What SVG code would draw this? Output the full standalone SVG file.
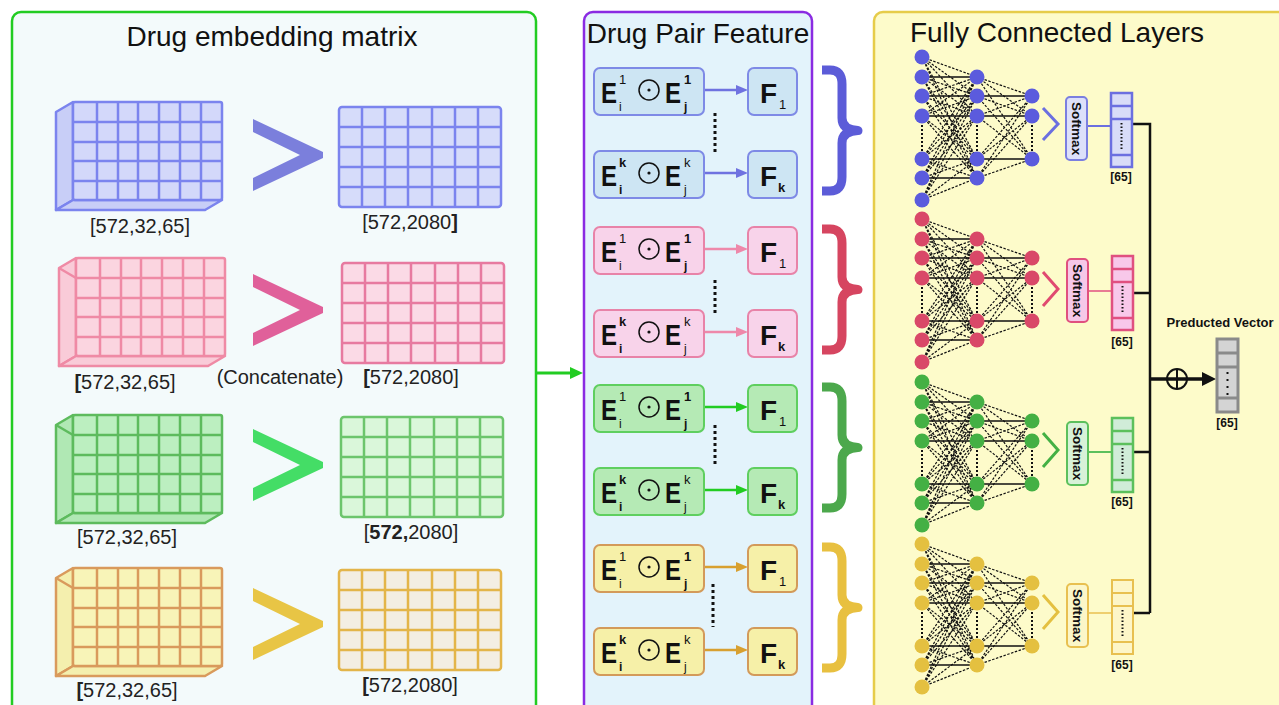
<svg xmlns="http://www.w3.org/2000/svg" width="1279" height="705" viewBox="0 0 1279 705">
<style>
text{font-family:"Liberation Sans",Arial,sans-serif;fill:#111}
.title{font-size:28px}
.lbl{font-size:20px;fill:#222}
.E{font-size:29px;font-weight:bold}
.F{font-size:28px;font-weight:bold}
.sup{font-size:13px}
.sub{font-size:12px}
.b{font-weight:bold}
.sm{font-size:13.5px;font-weight:bold}
.v65{font-size:12px;font-weight:bold}
.nnd{stroke:#111;stroke-width:1.2;stroke-dasharray:2.5 1.5;fill:none}
.nns{stroke:#111;stroke-width:1.7;fill:none}
.nnv{stroke:#111;stroke-width:2;stroke-dasharray:2 2;fill:none}
.odot{fill:none;stroke:#111;stroke-width:1.5}
.brace{fill:none;stroke-width:9;stroke-linejoin:round}
.dots{stroke:#111;stroke-width:3;stroke-dasharray:3 3;fill:none}
.vdots{stroke:#111;stroke-width:2;stroke-dasharray:1.5 2;fill:none}
.trunk{stroke:#111;stroke-width:2.5;fill:none}
</style>
<defs>
<g id="nnLines">
<path class="nns" d="M922 20H977M922 39H977M922 59H977M922 102H977M922 121H977M977 39H1032M977 59H1032M977 102H1032"/>
<path class="nnd" d="M922 0L977 20M922 0L977 39M922 0L977 59M922 0L977 102M922 0L977 121M922 20L977 39M922 20L977 59M922 20L977 102M922 20L977 121M922 39L977 20M922 39L977 59M922 39L977 102M922 39L977 121M922 59L977 20M922 59L977 39M922 59L977 102M922 59L977 121M922 102L977 20M922 102L977 39M922 102L977 59M922 102L977 121M922 121L977 20M922 121L977 39M922 121L977 59M922 121L977 102M922 143L977 20M922 143L977 39M922 143L977 59M922 143L977 102M922 143L977 121M977 20L1032 39M977 20L1032 59M977 20L1032 102M977 39L1032 59M977 39L1032 102M977 59L1032 39M977 59L1032 102M977 102L1032 39M977 102L1032 59M977 121L1032 39M977 121L1032 59M977 121L1032 102"/>
<path class="nnv" d="M922 68V94M977 68V94M1032 68V94"/>
</g>
<g id="nnNodes" fill="currentColor">
<circle cx="922" cy="0" r="7.5"/><circle cx="922" cy="20" r="7.5"/><circle cx="922" cy="39" r="7.5"/><circle cx="922" cy="59" r="7.5"/><circle cx="922" cy="102" r="7.5"/><circle cx="922" cy="121" r="7.5"/><circle cx="922" cy="143" r="7.5"/>
<circle cx="977" cy="20" r="7.5"/><circle cx="977" cy="39" r="7.5"/><circle cx="977" cy="59" r="7.5"/><circle cx="977" cy="102" r="7.5"/><circle cx="977" cy="121" r="7.5"/>
<circle cx="1032" cy="39" r="7.5"/><circle cx="1032" cy="59" r="7.5"/><circle cx="1032" cy="102" r="7.5"/>
</g>
<g id="cubeGrid">
<path d="M24 0V98M45 0V98M65 0V98M86 0V98M107 0V98M128 0V98M0 20H149M0 40H149M0 59H149M0 79H149"/>
</g>
<g id="flatGrid">
<path d="M23 0V100M46 0V100M69 0V100M93 0V100M116 0V100M139 0V100M0 20H162M0 40H162M0 60H162M0 80H162"/>
</g>
<path id="chev" d="M253 -36L323 -3L323 3L253 36L253 23L300 0L253 -23Z"/>
<path id="brace" d="M0 4H8Q20 4 20 18V52Q20 64 36 64.5Q20 65 20 77V111Q20 125 8 125H0"/>
</defs>

<rect width="1279" height="705" fill="#ffffff"/>

<!-- Panels -->
<g id="panel-embedding">
<rect x="12" y="12" width="524" height="720" rx="9" fill="#f3fafb" stroke="#22cc22" stroke-width="2.5"/>
<text class="title" x="272" y="46" text-anchor="middle">Drug embedding matrix</text>
</g>
<g id="panel-pair">
<rect x="584" y="12" width="228" height="720" rx="9" fill="#e3f3fb" stroke="#8a2be2" stroke-width="2.5"/>
<text class="title" x="698" y="43" text-anchor="middle">Drug Pair Feature</text>
</g>
<g id="panel-fc">
<rect x="874" y="12" width="430" height="720" rx="9" fill="#fdfbca" stroke="#e6cc4a" stroke-width="2.5"/>
<text class="title" x="1057" y="42" text-anchor="middle">Fully Connected Layers</text>
</g>

<!-- Cubes -->
<g id="cube-blue" transform="translate(73,102)" stroke="#7b84ee" fill="#d3d8fa" stroke-width="2.5" stroke-linejoin="round">
<polygon points="0,0 -17,10 -17,108 0,98" fill="#c8cef7"/>
<polygon points="-17,108 132,108 149,98 0,98" fill="#c8cef7"/>
<rect width="149" height="98" rx="2"/>
<use href="#cubeGrid" fill="none"/>
</g>
<g id="cube-pink" transform="translate(76,258)" stroke="#ef8aa5" fill="#fbd5e0" stroke-width="2.5" stroke-linejoin="round">
<polygon points="0,0 -17,10 -17,108 0,98" fill="#f9cbd8"/>
<polygon points="-17,108 132,108 149,98 0,98" fill="#f9cbd8"/>
<rect width="149" height="98" rx="2"/>
<use href="#cubeGrid" fill="none"/>
<path d="M-17 10L0 20" fill="none"/>
</g>
<g id="cube-green" transform="translate(73,415)" stroke="#5dbb5d" fill="#bcefc0" stroke-width="2.5" stroke-linejoin="round">
<polygon points="0,0 -17,10 -17,108 0,98" fill="#b0e8b4"/>
<polygon points="-17,108 132,108 149,98 0,98" fill="#b0e8b4"/>
<rect width="149" height="98" rx="2"/>
<use href="#cubeGrid" fill="none"/>
<path d="M-17 10L0 20" fill="none"/>
</g>
<g id="cube-yellow" transform="translate(73,568)" stroke="#d99a5c" fill="#f8f4b8" stroke-width="2.5" stroke-linejoin="round">
<polygon points="0,0 -17,10 -17,108 0,98" fill="#f4efae"/>
<polygon points="-17,108 132,108 149,98 0,98" fill="#f4efae"/>
<rect width="149" height="98" rx="2"/>
<use href="#cubeGrid" fill="none"/>
<path d="M-17 10L0 20" fill="none"/>
</g>

<!-- Chevrons -->
<g id="chevrons">
<use href="#chev" transform="translate(0,155)" fill="#7b7fdc"/>
<use href="#chev" transform="translate(0,310)" fill="#e0609a"/>
<use href="#chev" transform="translate(0,465)" fill="#44dd66"/>
<use href="#chev" transform="translate(0,624)" fill="#e8c545"/>
</g>

<!-- Flat matrices -->
<g id="flat-blue" transform="translate(339,107)" stroke="#7b84ee" stroke-width="2.5"><rect width="162" height="100" rx="3" fill="#d6dcfa"/><use href="#flatGrid" fill="none"/></g>
<g id="flat-pink" transform="translate(342,263)" stroke="#e77aa0" stroke-width="2.5"><rect width="162" height="100" rx="3" fill="#fbdae6"/><use href="#flatGrid" fill="none"/></g>
<g id="flat-green" transform="translate(341,417)" stroke="#6cc56c" stroke-width="2.5"><rect width="162" height="100" rx="3" fill="#daf7da"/><use href="#flatGrid" fill="none"/></g>
<g id="flat-yellow" transform="translate(339,570)" stroke="#e3b54a" stroke-width="2.5"><rect width="162" height="100" rx="3" fill="#f3eee3"/><use href="#flatGrid" fill="none"/></g>

<!-- Left labels -->
<g id="labels-left">
<text class="lbl" x="140" y="233" text-anchor="middle">[572,32,65]</text>
<text class="lbl" x="410" y="229" text-anchor="middle">[572,2080<tspan font-weight="bold">]</tspan></text>
<text class="lbl" x="125" y="389" text-anchor="middle"><tspan font-weight="bold">[</tspan>572,32,65]</text>
<text class="lbl" x="280" y="384" text-anchor="middle">(Concatenate)</text>
<text class="lbl" x="411" y="384" text-anchor="middle"><tspan font-weight="bold">[</tspan>572,2080]</text>
<text class="lbl" x="127" y="544" text-anchor="middle">[572,32,65]</text>
<text class="lbl" x="411" y="539" text-anchor="middle">[<tspan font-weight="bold">572,</tspan>2080]</text>
<text class="lbl" x="127" y="697" text-anchor="middle"><tspan font-weight="bold">[</tspan>572,32,65]</text>
<text class="lbl" x="410" y="692" text-anchor="middle"><tspan font-weight="bold">[</tspan>572,2080]</text>
</g>

<!-- Connectors -->
<g id="connectors">
<line x1="537" y1="373" x2="572" y2="373" stroke="#22cc22" stroke-width="3"/>
<polygon points="570,367 583,373 570,379" fill="#22cc22"/>
<g stroke-width="2.5">
<line x1="704" y1="90" x2="738" y2="90" stroke="#6f72e0"/><polygon points="736,85 748,90 736,95" fill="#6f72e0"/>
<line x1="704" y1="173" x2="738" y2="173" stroke="#6f72e0"/><polygon points="736,168 748,173 736,178" fill="#6f72e0"/>
<line x1="704" y1="249" x2="738" y2="249" stroke="#ee88aa"/><polygon points="736,244 748,249 736,254" fill="#ee88aa"/>
<line x1="704" y1="332" x2="738" y2="332" stroke="#ee88aa"/><polygon points="736,327 748,332 736,337" fill="#ee88aa"/>
<line x1="704" y1="407" x2="738" y2="407" stroke="#22cc22"/><polygon points="736,402 748,407 736,412" fill="#22cc22"/>
<line x1="704" y1="490" x2="738" y2="490" stroke="#22cc22"/><polygon points="736,485 748,490 736,495" fill="#22cc22"/>
<line x1="704" y1="567" x2="738" y2="567" stroke="#d8a030"/><polygon points="736,562 748,567 736,572" fill="#d8a030"/>
<line x1="704" y1="650" x2="738" y2="650" stroke="#d8a030"/><polygon points="736,645 748,650 736,655" fill="#d8a030"/>
</g>
<path class="dots" d="M715 113V153M715 280V313M715 425V465M713 584V627"/>
<line x1="1087" y1="126" x2="1111" y2="126" stroke="#6b6fe0" stroke-width="2"/>
<line x1="1087" y1="291" x2="1112" y2="291" stroke="#e05080" stroke-width="1.5"/>
<line x1="1087" y1="452" x2="1112" y2="452" stroke="#5cc05c" stroke-width="2"/>
<line x1="1087" y1="613" x2="1112" y2="613" stroke="#e8c050" stroke-width="1.5"/>
<path class="trunk" d="M1132 124H1150V613M1133 293H1150M1133 452H1150M1133 613H1150"/>
<line x1="1150" y1="379" x2="1204" y2="379" stroke="#111" stroke-width="3.5"/>
<polygon points="1202,372 1216,379 1202,386" fill="#111"/>
<circle cx="1177" cy="379" r="10" fill="none" stroke="#111" stroke-width="2"/>
<line x1="1177" y1="369" x2="1177" y2="389" stroke="#111" stroke-width="2"/>
</g>

<!-- Braces -->
<g id="braces">
<use href="#brace" class="brace" transform="translate(822,66)" stroke="#5c5cd8"/>
<use href="#brace" class="brace" transform="translate(822,225)" stroke="#d64560"/>
<use href="#brace" class="brace" transform="translate(822,383)" stroke="#4ca84c"/>
<use href="#brace" class="brace" transform="translate(822,543)" stroke="#e8c040"/>
</g>

<!-- Pair feature boxes -->
<g id="pair-blue-1" transform="translate(0,68)">
<rect x="594" y="0" width="110" height="47" rx="6" fill="#cde5f3" stroke="#7e8ae6" stroke-width="2"/>
<text class="E" x="601" y="35" textLength="16" lengthAdjust="spacingAndGlyphs">E</text><text class="sup" x="619" y="16">1</text><text class="sub" x="619" y="43">i</text>
<circle class="odot" cx="649" cy="22" r="10"/><circle cx="649" cy="22" r="1.6" fill="#111"/>
<text class="E" x="665" y="35" textLength="16" lengthAdjust="spacingAndGlyphs">E</text><text class="sup b" x="684" y="16">1</text><text class="sub b" x="684" y="43">j</text>
<rect x="748" y="0" width="49" height="47" rx="6" fill="#cde5f3" stroke="#7e8ae6" stroke-width="2"/>
<text class="F" x="760" y="35">F</text><text class="sup" x="779" y="41">1</text>
</g>
<g id="pair-blue-k" transform="translate(0,151)">
<rect x="594" y="0" width="110" height="47" rx="6" fill="#cde5f3" stroke="#7e8ae6" stroke-width="2"/>
<text class="E" x="601" y="35" textLength="16" lengthAdjust="spacingAndGlyphs">E</text><text class="sup b" x="619" y="16">k</text><text class="sub b" x="619" y="43">i</text>
<circle class="odot" cx="649" cy="22" r="10"/><circle cx="649" cy="22" r="1.6" fill="#111"/>
<text class="E" x="665" y="35" textLength="16" lengthAdjust="spacingAndGlyphs">E</text><text class="sup" x="684" y="16">k</text><text class="sub" x="684" y="43">j</text>
<rect x="748" y="0" width="49" height="47" rx="6" fill="#cde5f3" stroke="#7e8ae6" stroke-width="2"/>
<text class="F" x="760" y="35">F</text><text class="sup b" x="778" y="41">k</text>
</g>
<g id="pair-pink-1" transform="translate(0,227)">
<rect x="594" y="0" width="110" height="47" rx="6" fill="#f8d3ea" stroke="#e883a8" stroke-width="2"/>
<text class="E" x="601" y="35" textLength="16" lengthAdjust="spacingAndGlyphs">E</text><text class="sup" x="619" y="16">1</text><text class="sub" x="619" y="43">i</text>
<circle class="odot" cx="649" cy="22" r="10"/><circle cx="649" cy="22" r="1.6" fill="#111"/>
<text class="E" x="665" y="35" textLength="16" lengthAdjust="spacingAndGlyphs">E</text><text class="sup b" x="684" y="16">1</text><text class="sub b" x="684" y="43">j</text>
<rect x="748" y="0" width="49" height="47" rx="6" fill="#f8d3ea" stroke="#e883a8" stroke-width="2"/>
<text class="F" x="760" y="35">F</text><text class="sup" x="779" y="41">1</text>
</g>
<g id="pair-pink-k" transform="translate(0,310)">
<rect x="594" y="0" width="110" height="47" rx="6" fill="#f8d3ea" stroke="#e883a8" stroke-width="2"/>
<text class="E" x="601" y="35" textLength="16" lengthAdjust="spacingAndGlyphs">E</text><text class="sup b" x="619" y="16">k</text><text class="sub b" x="619" y="43">i</text>
<circle class="odot" cx="649" cy="22" r="10"/><circle cx="649" cy="22" r="1.6" fill="#111"/>
<text class="E" x="665" y="35" textLength="16" lengthAdjust="spacingAndGlyphs">E</text><text class="sup" x="684" y="16">k</text><text class="sub" x="684" y="43">j</text>
<rect x="748" y="0" width="49" height="47" rx="6" fill="#f8d3ea" stroke="#e883a8" stroke-width="2"/>
<text class="F" x="760" y="35">F</text><text class="sup b" x="778" y="41">k</text>
</g>
<g id="pair-green-1" transform="translate(0,385)">
<rect x="594" y="0" width="110" height="47" rx="6" fill="#b5eab5" stroke="#5fcf5f" stroke-width="2"/>
<text class="E" x="601" y="35" textLength="16" lengthAdjust="spacingAndGlyphs">E</text><text class="sup" x="619" y="16">1</text><text class="sub" x="619" y="43">i</text>
<circle class="odot" cx="649" cy="22" r="10"/><circle cx="649" cy="22" r="1.6" fill="#111"/>
<text class="E" x="665" y="35" textLength="16" lengthAdjust="spacingAndGlyphs">E</text><text class="sup b" x="684" y="16">1</text><text class="sub b" x="684" y="43">j</text>
<rect x="748" y="0" width="49" height="47" rx="6" fill="#b5eab5" stroke="#5fcf5f" stroke-width="2"/>
<text class="F" x="760" y="35">F</text><text class="sup" x="779" y="41">1</text>
</g>
<g id="pair-green-k" transform="translate(0,468)">
<rect x="594" y="0" width="110" height="47" rx="6" fill="#b5eab5" stroke="#5fcf5f" stroke-width="2"/>
<text class="E" x="601" y="35" textLength="16" lengthAdjust="spacingAndGlyphs">E</text><text class="sup b" x="619" y="16">k</text><text class="sub b" x="619" y="43">i</text>
<circle class="odot" cx="649" cy="22" r="10"/><circle cx="649" cy="22" r="1.6" fill="#111"/>
<text class="E" x="665" y="35" textLength="16" lengthAdjust="spacingAndGlyphs">E</text><text class="sup" x="684" y="16">k</text><text class="sub" x="684" y="43">j</text>
<rect x="748" y="0" width="49" height="47" rx="6" fill="#b5eab5" stroke="#5fcf5f" stroke-width="2"/>
<text class="F" x="760" y="35">F</text><text class="sup b" x="778" y="41">k</text>
</g>
<g id="pair-yellow-1" transform="translate(0,545)">
<rect x="594" y="0" width="110" height="47" rx="6" fill="#f6f0a8" stroke="#d39a5a" stroke-width="2"/>
<text class="E" x="601" y="35" textLength="16" lengthAdjust="spacingAndGlyphs">E</text><text class="sup" x="619" y="16">1</text><text class="sub" x="619" y="43">i</text>
<circle class="odot" cx="649" cy="22" r="10"/><circle cx="649" cy="22" r="1.6" fill="#111"/>
<text class="E" x="665" y="35" textLength="16" lengthAdjust="spacingAndGlyphs">E</text><text class="sup b" x="684" y="16">1</text><text class="sub b" x="684" y="43">j</text>
<rect x="748" y="0" width="49" height="47" rx="6" fill="#f6f0a8" stroke="#d39a5a" stroke-width="2"/>
<text class="F" x="760" y="35">F</text><text class="sup" x="779" y="41">1</text>
</g>
<g id="pair-yellow-k" transform="translate(0,628)">
<rect x="594" y="0" width="110" height="47" rx="6" fill="#f6f0a8" stroke="#d39a5a" stroke-width="2"/>
<text class="E" x="601" y="35" textLength="16" lengthAdjust="spacingAndGlyphs">E</text><text class="sup b" x="619" y="16">k</text><text class="sub b" x="619" y="43">i</text>
<circle class="odot" cx="649" cy="22" r="10"/><circle cx="649" cy="22" r="1.6" fill="#111"/>
<text class="E" x="665" y="35" textLength="16" lengthAdjust="spacingAndGlyphs">E</text><text class="sup" x="684" y="16">k</text><text class="sub" x="684" y="43">j</text>
<rect x="748" y="0" width="49" height="47" rx="6" fill="#f6f0a8" stroke="#d39a5a" stroke-width="2"/>
<text class="F" x="760" y="35">F</text><text class="sup b" x="778" y="41">k</text>
</g>

<!-- Neural nets -->
<g id="fc-blue" transform="translate(0,57)" style="color:#5b5bdd"><use href="#nnLines"/><use href="#nnNodes"/></g>
<g id="fc-pink" transform="translate(0,219)" style="color:#d94868"><use href="#nnLines"/><use href="#nnNodes"/></g>
<g id="fc-green" transform="translate(0,382)" style="color:#44b044"><use href="#nnLines"/><use href="#nnNodes"/></g>
<g id="fc-yellow" transform="translate(0,544)" style="color:#e4c040"><use href="#nnLines"/><use href="#nnNodes"/></g>

<g id="small-chevrons" fill="none" stroke-width="3">
<polyline points="1043,108 1058,124 1043,140" stroke="#6b6fe0"/>
<polyline points="1043,272 1058,289 1043,306" stroke="#e04a70"/>
<polyline points="1043,433 1058,450 1043,467" stroke="#44b044"/>
<polyline points="1043,595 1058,612 1043,629" stroke="#e4c040"/>
</g>

<!-- Softmax boxes -->
<g id="softmax-blue"><rect x="1066" y="97" width="21" height="63" rx="4" fill="#dde0fa" stroke="#7b7fe0" stroke-width="2"/><text class="sm" transform="translate(1076.5,128.5) rotate(90)" text-anchor="middle" dominant-baseline="central">Softmax</text></g>
<g id="softmax-pink"><rect x="1067" y="259" width="21" height="63" rx="4" fill="#f6c8e8" stroke="#e0507f" stroke-width="2"/><text class="sm" transform="translate(1077.5,290.5) rotate(90)" text-anchor="middle" dominant-baseline="central">Softmax</text></g>
<g id="softmax-green"><rect x="1067" y="422" width="21" height="63" rx="4" fill="#d8f2d8" stroke="#5cc05c" stroke-width="2"/><text class="sm" transform="translate(1077.5,453.5) rotate(90)" text-anchor="middle" dominant-baseline="central">Softmax</text></g>
<g id="softmax-yellow"><rect x="1067" y="584" width="21" height="63" rx="4" fill="#fbf6c8" stroke="#e8c050" stroke-width="2"/><text class="sm" transform="translate(1077.5,615.5) rotate(90)" text-anchor="middle" dominant-baseline="central">Softmax</text></g>

<!-- Output vectors -->
<g id="vec-blue" transform="translate(1111,93)" fill="#d8dcf8" stroke="#6b6fe0" stroke-width="2.5">
<rect width="21" height="74"/><path d="M0 13H21M0 26H21M0 62H21" fill="none"/><path class="vdots" d="M10.5 30V58"/>
</g>
<text class="v65" x="1121" y="181" text-anchor="middle">[65]</text>
<g id="vec-pink" transform="translate(1112,256)" fill="#f8c8ea" stroke="#e05080" stroke-width="2.5">
<rect width="21" height="74"/><path d="M0 13H21M0 26H21M0 62H21" fill="none"/><path class="vdots" d="M10.5 30V58"/>
</g>
<text class="v65" x="1122" y="346" text-anchor="middle">[65]</text>
<g id="vec-green" transform="translate(1112,418)" fill="#d0ecd8" stroke="#5cc05c" stroke-width="2.5">
<rect width="21" height="74"/><path d="M0 13H21M0 26H21M0 62H21" fill="none"/><path class="vdots" d="M10.5 30V58"/>
</g>
<text class="v65" x="1122" y="506" text-anchor="middle">[65]</text>
<g id="vec-yellow" transform="translate(1112,580)" fill="#fdf6c8" stroke="#e8c050" stroke-width="2">
<rect width="21" height="74"/><path d="M0 13H21M0 26H21M0 62H21" fill="none"/><path class="vdots" d="M10.5 30V58"/>
</g>
<text class="v65" x="1122" y="669" text-anchor="middle">[65]</text>

<!-- Predicted vector -->
<g id="predicted-vector">
<text class="sm" x="1220" y="327" text-anchor="middle" style="font-size:13px">Preducted Vector</text>
<g transform="translate(1217,339)" fill="#d4d4d4" stroke="#8a8a8a" stroke-width="3">
<rect width="21" height="73"/><path d="M0 14H21M0 28H21M0 59H21" fill="none"/>
</g>
<path d="M1227.5 372V397" stroke="#111" stroke-width="2" stroke-dasharray="2 5" fill="none"/>
<text class="v65" x="1227" y="427" text-anchor="middle">[65]</text>
</g>
</svg>
